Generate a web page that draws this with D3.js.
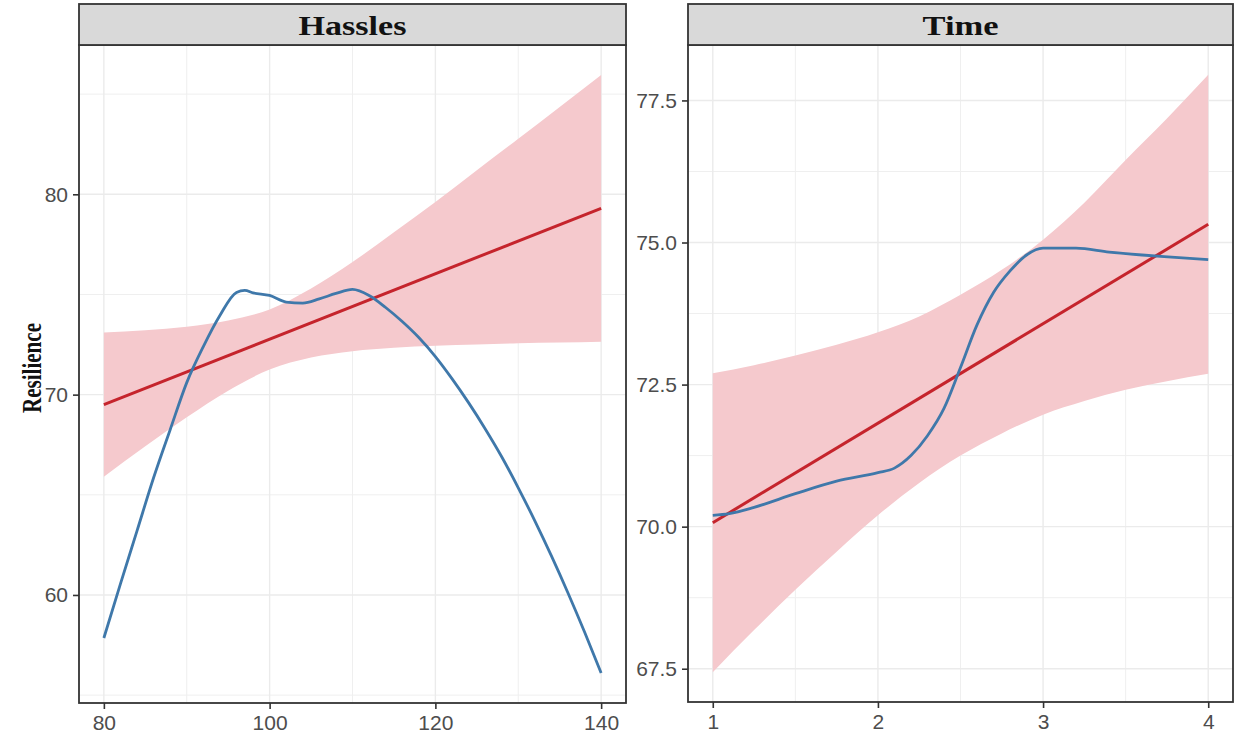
<!DOCTYPE html>
<html>
<head>
<meta charset="utf-8">
<script src="https://cdn.jsdelivr.net/npm/d3@7"></script>
<style>
  html, body { margin: 0; padding: 0; background: #ffffff; }
  svg { display: block; }
</style>
</head>
<body>
<svg id="chart" width="1236" height="740"></svg>
<script>
// ---- Hassles facet ----
const hasslesFitX = [80, 140];
const hasslesFitY = [69.5, 79.3];
const hasslesBandX  = [80, 85, 90, 95, 100, 105, 110, 115, 120, 125, 130, 135, 140];
const hasslesBandHi = [73.10, 73.22, 73.39, 73.70, 74.25, 75.30, 76.62, 78.10, 79.62, 81.20, 82.77, 84.36, 85.96];
const hasslesBandLo = [65.90, 67.42, 68.87, 70.20, 71.25, 71.85, 72.17, 72.34, 72.44, 72.50, 72.57, 72.60, 72.64];
const hasslesLoessX = [80, 82, 84, 86, 88, 90, 92, 94, 96, 97, 98, 100, 102, 104, 106, 108, 110, 112, 114, 116, 118, 120, 122, 124, 126, 128, 130, 132, 134, 136, 138, 140];
const hasslesLoessY = [57.85, 60.55, 63.2, 65.85, 68.25, 70.6, 72.4, 73.95, 75.1, 75.2, 75.08, 74.95, 74.62, 74.57, 74.78, 75.05, 75.25, 74.95, 74.35, 73.65, 72.85, 71.9, 70.8, 69.6, 68.3, 66.9, 65.35, 63.7, 61.95, 60.1, 58.15, 56.1];
const hasslesXTicks = [80, 100, 120, 140];
const hasslesYTicks = [60, 70, 80];

// ---- Time facet ----
const timeFitX = [1, 4];
const timeFitY = [70.07, 75.32];
const timeBandX  = [1, 1.25, 1.5, 1.75, 2, 2.25, 2.5, 2.75, 3, 3.25, 3.5, 3.75, 4];
const timeBandHi = [72.70, 72.84, 73.01, 73.20, 73.42, 73.70, 74.08, 74.52, 75.05, 75.70, 76.45, 77.18, 77.95];
const timeBandLo = [67.44, 68.18, 68.89, 69.56, 70.20, 70.77, 71.25, 71.64, 71.97, 72.21, 72.41, 72.56, 72.69];
const timeLoessX = [1, 1.1, 1.25, 1.5, 1.75, 2, 2.1, 2.2, 2.3, 2.4, 2.5, 2.6, 2.7, 2.8, 2.9, 3.0, 3.2, 3.4, 3.6, 3.8, 4.0];
const timeLoessY = [70.2, 70.23, 70.34, 70.58, 70.8, 70.95, 71.03, 71.25, 71.6, 72.08, 72.8, 73.55, 74.12, 74.5, 74.78, 74.9, 74.9, 74.83, 74.78, 74.74, 74.7];
const timeXTicks = [1, 2, 3, 4];
const timeYTicks = [67.5, 70.0, 72.5, 75.0, 77.5];

const facetTitles = ["Hassles", "Time"];
const yTitle = "Resilience";

const facets = [
  {
    title: facetTitles[0], titleWidth: 108,
    box: { x0: 79, x1: 626, y0: 45, y1: 703 },
    fitX: hasslesFitX, fitY: hasslesFitY,
    bandX: hasslesBandX, bandHi: hasslesBandHi, bandLo: hasslesBandLo,
    loessX: hasslesLoessX, loessY: hasslesLoessY,
    xTicks: hasslesXTicks, yTicks: hasslesYTicks,
    yFormat: d3.format("d")
  },
  {
    title: facetTitles[1], titleWidth: 76,
    box: { x0: 688, x1: 1233, y0: 45, y1: 702 },
    fitX: timeFitX, fitY: timeFitY,
    bandX: timeBandX, bandHi: timeBandHi, bandLo: timeBandLo,
    loessX: timeLoessX, loessY: timeLoessY,
    xTicks: timeXTicks, yTicks: timeYTicks,
    yFormat: d3.format(".1f")
  }
];

const svg = d3.select("#chart");
const STRIP_TOP = 4;
const gridMajor = "#ebebeb";
const gridMinor = "#efefef";
const border = "#333333";
const bandFill = "#f5c9cd";
const fitColor = "#c5242c";
const loessColor = "#3f78aa";

// 5% padding on each side of the data range, like a default continuous scale
function padded(values) {
  const [lo, hi] = d3.extent(values);
  const pad = (hi - lo) * 0.05;
  return [lo - pad, hi + pad];
}

function minorBreaks(ticks, domain) {
  const step = ticks[1] - ticks[0];
  const out = [];
  for (let v = ticks[0] - step / 2; v <= ticks[ticks.length - 1] + step / 2 + 1e-9; v += step) {
    if (v >= domain[0] && v <= domain[1]) out.push(v);
  }
  return out;
}

facets.forEach(f => {
  const b = f.box;
  const xDomain = padded(f.loessX.concat(f.bandX, f.fitX));
  const yDomain = padded(f.loessY.concat(f.bandHi, f.bandLo, f.fitY));
  const x = d3.scaleLinear().domain(xDomain).range([b.x0, b.x1]);
  const y = d3.scaleLinear().domain(yDomain).range([b.y1, b.y0]);

  const g = svg.append("g");

  // panel background
  g.append("rect")
    .attr("x", b.x0).attr("y", b.y0)
    .attr("width", b.x1 - b.x0).attr("height", b.y1 - b.y0)
    .attr("fill", "#ffffff");

  // minor grid
  g.selectAll(".vminor").data(minorBreaks(f.xTicks, xDomain)).join("line")
    .attr("x1", d => x(d)).attr("x2", d => x(d))
    .attr("y1", b.y0).attr("y2", b.y1)
    .attr("stroke", gridMinor).attr("stroke-width", 1);
  g.selectAll(".hminor").data(minorBreaks(f.yTicks, yDomain)).join("line")
    .attr("y1", d => y(d)).attr("y2", d => y(d))
    .attr("x1", b.x0).attr("x2", b.x1)
    .attr("stroke", gridMinor).attr("stroke-width", 1);

  // major grid
  g.selectAll(".vmajor").data(f.xTicks).join("line")
    .attr("x1", d => x(d)).attr("x2", d => x(d))
    .attr("y1", b.y0).attr("y2", b.y1)
    .attr("stroke", gridMajor).attr("stroke-width", 1.4);
  g.selectAll(".hmajor").data(f.yTicks).join("line")
    .attr("y1", d => y(d)).attr("y2", d => y(d))
    .attr("x1", b.x0).attr("x2", b.x1)
    .attr("stroke", gridMajor).attr("stroke-width", 1.4);

  // confidence band of the linear fit
  const bandRows = f.bandX.map((v, i) => ({ x: v, lo: f.bandLo[i], hi: f.bandHi[i] }));
  g.append("path")
    .datum(bandRows)
    .attr("fill", bandFill)
    .attr("d", d3.area().x(d => x(d.x)).y0(d => y(d.lo)).y1(d => y(d.hi)).curve(d3.curveMonotoneX));

  // linear fit
  g.append("path")
    .datum(f.fitX.map((v, i) => [v, f.fitY[i]]))
    .attr("fill", "none")
    .attr("stroke", fitColor)
    .attr("stroke-width", 3)
    .attr("d", d3.line().x(d => x(d[0])).y(d => y(d[1])));

  // loess smooth
  g.append("path")
    .datum(f.loessX.map((v, i) => [v, f.loessY[i]]))
    .attr("fill", "none")
    .attr("stroke", loessColor)
    .attr("stroke-width", 2.8)
    .attr("stroke-linejoin", "round")
    .attr("d", d3.line().x(d => x(d[0])).y(d => y(d[1])).curve(d3.curveMonotoneX));

  // panel border
  g.append("rect")
    .attr("x", b.x0).attr("y", b.y0)
    .attr("width", b.x1 - b.x0).attr("height", b.y1 - b.y0)
    .attr("fill", "none").attr("stroke", border).attr("stroke-width", 1.8);

  // strip
  g.append("rect")
    .attr("x", b.x0).attr("y", STRIP_TOP)
    .attr("width", b.x1 - b.x0).attr("height", b.y0 - STRIP_TOP)
    .attr("fill", "#d9d9d9").attr("stroke", border).attr("stroke-width", 1.8);
  g.append("text")
    .attr("x", (b.x0 + b.x1) / 2).attr("y", 35)
    .attr("text-anchor", "middle")
    .attr("font-family", "'Liberation Serif', 'Times New Roman', serif")
    .attr("font-weight", "bold")
    .attr("font-size", 27)
    .attr("textLength", f.titleWidth)
    .attr("lengthAdjust", "spacingAndGlyphs")
    .attr("fill", "#111")
    .text(f.title);

  // axes
  const xAxis = g.append("g")
    .attr("transform", `translate(0,${b.y1})`)
    .call(d3.axisBottom(x).tickValues(f.xTicks).tickSize(6).tickPadding(6).tickFormat(d3.format("d")));
  const yAxis = g.append("g")
    .attr("transform", `translate(${b.x0},0)`)
    .call(d3.axisLeft(y).tickValues(f.yTicks).tickSize(6).tickPadding(5).tickFormat(f.yFormat));
  [xAxis, yAxis].forEach(a => {
    a.select(".domain").remove();
    a.selectAll(".tick line").attr("stroke", border).attr("stroke-width", 1.6);
    a.selectAll(".tick text")
      .attr("font-family", "'Liberation Sans', Arial, sans-serif")
      .attr("font-size", 21)
      .attr("fill", "#4d4d4d");
  });
});

// y-axis title
svg.append("text")
  .attr("transform", "translate(41,368) rotate(-90)")
  .attr("text-anchor", "middle")
  .attr("font-family", "'Liberation Serif', 'Times New Roman', serif")
  .attr("font-weight", "bold")
  .attr("font-size", 28)
  .attr("textLength", 90)
  .attr("lengthAdjust", "spacingAndGlyphs")
  .attr("fill", "#111")
  .text(yTitle);
</script>
</body>
</html>
